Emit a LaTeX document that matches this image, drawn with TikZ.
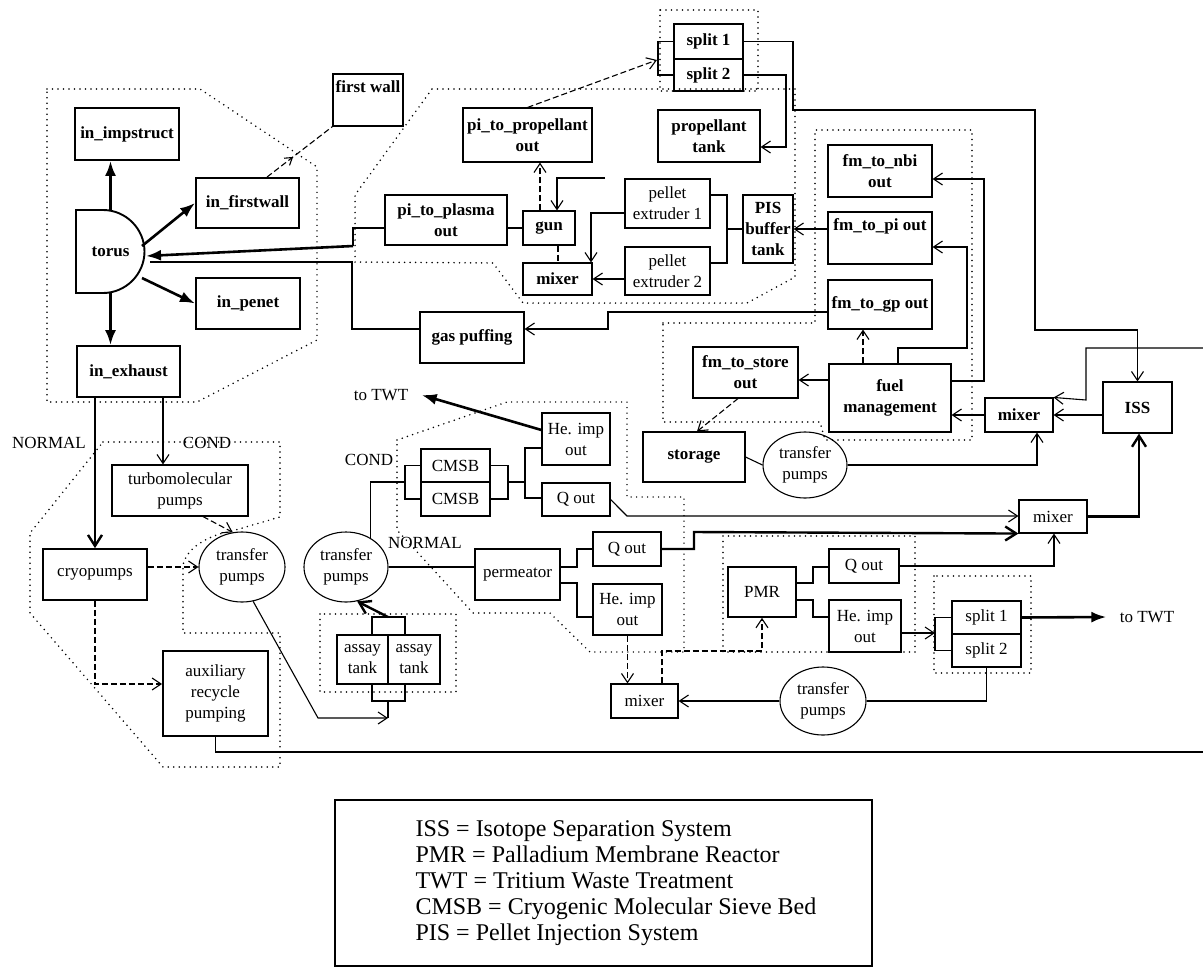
\documentclass[tikz,border=0pt]{standalone}
\usepackage{fontspec}
\setmainfont{Liberation Serif}
\usetikzlibrary{arrows.meta,shapes.geometric,decorations.markings}
\newcommand\bx[7]{\node[#6, minimum width={#4-#2}, minimum height={#5-#3}] (#1) at ({(#2+#4)/2},{(#3+#5)/2}) {#7};}
\tikzset{
 lbl/.style={font=\fontsize{17}{21}\selectfont, align=center},
 box/.style={draw, line width=1.1pt, inner sep=1pt, lbl},
 bbox/.style={box, font=\fontsize{17}{21}\selectfont\bfseries},
 tbox/.style={bbox, line width=1.9pt},
 hbox/.style={box, line width=1.7pt},
 ell/.style={draw, ellipse, line width=1.1pt, inner sep=0pt, lbl},
 ln/.style={line width=1.1pt},
 arw/.style={ln, -{Straight Barb[length=9pt,width=12pt]}},
 dsh/.style={dash pattern=on 6pt off 3pt},
 fat/.style={line width=2.6pt, -{Latex[length=15pt,width=11pt]}},
 fatv/.style={line width=2.4pt, -{Straight Barb[length=11pt,width=14pt]}},
 grp/.style={line width=1.7pt, dash pattern=on 0pt off 5.5pt, line cap=round},
}
\begin{document}
\begin{tikzpicture}[x=1pt,y=-1pt]
\path[fill=white] (0,0) rectangle (1203,978);
\useasboundingbox (0,0) rectangle (1203,978);

% ---------- dotted groups ----------
\draw[grp] (47,89) -- (200,89) -- (317,167) -- (317,340) -- (197,402) -- (47,402) -- cycle;
\draw[grp] (432,89) -- (795,89) -- (795,277) -- (747,303) -- (523,303) -- (493,263) -- (355,262) -- (355,195) -- cycle;
\draw[grp] (660,10) rectangle (758,91);
\draw[grp] (663,323) -- (815,323) -- (815,130) -- (972,130) -- (972,440) -- (825,440) -- (820,422) -- (663,422) -- cycle;
\draw[grp] (397,440) -- (507,402) -- (627,402) -- (627,497) -- (684,497) -- (684,652) -- (590,652) -- (550,613) -- (473,613) -- (397,530) -- cycle;
\draw[grp] (723,536) rectangle (915,652);
\draw[grp] (934,576) rectangle (1031,673);
\draw[grp] (320,614) rectangle (456,692);
\draw[grp] (103,442) -- (280,442) -- (280,517) -- (232,531) .. controls (205,536) and (185,550) .. (183,566) -- (183,633) -- (280,633) -- (280,767) -- (163,767) -- (30,613) -- (30,533) -- (43,517) -- cycle;

% ---------- torus group ----------
\draw[line width=1.9pt, fill=white] (76,210) -- (103,210) .. controls (126,210) and (144.5,229) .. (144.5,251.5) .. controls (144.5,274) and (126,293) .. (103,293) -- (76,293) -- cycle;
\node[minimum width=69, minimum height=83, inner sep=0pt, font=\fontsize{17}{21}\selectfont\bfseries] (torus) at (110.5,251.5) {torus};
\bx{imp}{75}{108}{179}{160}{tbox}{in\_impstruct}
\bx{fwl}{196}{178}{299}{228}{tbox}{in\_firstwall}
\bx{pen}{196}{278}{300}{329}{tbox}{in\_penet}
\bx{exh}{77}{346}{180}{397}{tbox}{in\_exhaust}
\bx{fw}{333}{74}{403}{126}{bbox}{first wall\\\strut}

% ---------- PIS group ----------
\bx{pitp}{463}{108}{592}{162}{bbox}{pi\_to\_propellant\\out}
\bx{spa}{674}{24}{743}{59}{bbox}{split 1}
\bx{spb}{674}{59}{743}{91}{bbox}{split 2}
\bx{prop}{658}{110}{760}{162}{bbox}{propellant\\tank}
\bx{pipl}{385}{195}{507}{245}{bbox}{pi\_to\_plasma\\out}
\bx{gun}{523}{211}{575}{245}{bbox}{gun}
\bx{mixA}{523}{263}{592}{295}{bbox}{mixer}
\bx{ext1}{625}{179}{710}{228}{box}{pellet\\extruder 1}
\bx{ext2}{625}{247}{710}{295}{box}{pellet\\extruder 2}
\bx{pis}{743}{195}{793}{263}{bbox}{PIS\\buffer\\tank}
\bx{gas}{420}{312}{524}{363}{bbox}{gas puffing}

% ---------- fuel management ----------
\bx{nbi}{828}{145}{932}{197}{bbox}{fm\_to\_nbi\\out}
\bx{fmpi}{828}{212}{932}{264}{bbox}{fm\_to\_pi out\\\strut}
\bx{fmgp}{828}{280}{932}{329}{bbox}{fm\_to\_gp out}
\bx{fuel}{829}{364}{951}{432}{bbox}{fuel\\management}
\bx{store}{693}{347}{798}{398}{bbox}{fm\_to\_store\\out}
\bx{storage}{643}{432}{745}{482}{bbox}{storage}
\node[ell, minimum width=84, minimum height=66] (tpS) at (805,465) {transfer\\pumps};
\bx{mixB}{985}{398}{1053}{432}{bbox}{mixer}
\bx{iss}{1103}{382}{1172}{433}{bbox}{ISS}
\bx{mixC}{1019}{500}{1087}{533}{box}{mixer}

% ---------- CMSB / permeator / PMR ----------
\bx{cmsb1}{421}{449}{490}{482}{box}{CMSB}
\bx{cmsb2}{421}{482}{490}{516}{box}{CMSB}
\bx{heA}{542}{413}{610}{465}{box}{He. imp\\out}
\bx{qA}{542}{483}{610}{516}{box}{Q out}
\node[ell, minimum width=84, minimum height=70] (tpM) at (346,567) {transfer\\pumps};
\bx{perm}{475}{549}{560}{600}{hbox}{permeator}
\bx{qB}{593}{532}{661}{566}{hbox}{Q out}
\bx{heB}{593}{584}{662}{635}{hbox}{He. imp\\out}
\bx{pmr}{728}{567}{796}{617}{hbox}{PMR}
\bx{qC}{829}{549}{899}{583}{hbox}{Q out}
\bx{heC}{829}{600}{901}{652}{box}{He. imp\\out}
\bx{spc}{952}{601}{1021}{634}{box}{split 1}
\bx{spd}{952}{634}{1021}{667}{box}{split 2}
\node[ell, minimum width=86, minimum height=68] (tpR) at (823,701) {transfer\\pumps};
\bx{mixD}{611}{684}{678}{718}{box}{mixer}
\bx{as1}{337}{635}{388}{684}{box}{assay\\tank}
\bx{as2}{388}{635}{440}{684}{box}{assay\\tank}

% ---------- left bottom ----------
\bx{turbo}{112}{465}{248}{516}{box}{turbomolecular\\pumps}
\bx{cryo}{43}{549}{147}{600}{hbox}{cryopumps}
\node[ell, minimum width=86, minimum height=70] (tpL) at (242,567) {transfer\\pumps};
\bx{aux}{163}{651}{268}{736}{tbox,font=\fontsize{17}{21}\selectfont}{auxiliary\\recycle\\pumping}

% ---------- labels ----------
\node[lbl] (twtA) at (381,395) {to TWT};
\node[lbl] (twtB) at (1147,617) {to TWT};
\node[lbl] (nrmA) at (49,443) {NORMAL};
\node[lbl] (cndA) at (207,443) {COND};
\node[lbl] (cndB) at (369,460) {COND};
\node[lbl] (nrmB) at (425,543) {NORMAL};

% ---------- free ends ----------
\coordinate (gunin) at (605,178);
\coordinate (redgeA) at (1203,348);
\coordinate (redgeB) at (1203,752);

% ---------- torus connectors ----------
\draw[fat] (torus.north) -- (torus.north |- imp.south);
\draw[fat] (142,246) -- (fwl.west);
\draw[fat] (142,278) -- (pen.west);
\draw[fat] (torus.south) -- (torus.south |- exh.north);
\draw[ln] (pipl.west |- 0,228) -- (353,228) -- (353,246);
\draw[fat] (353,246) -- (146,256);
\draw[line width=2.4pt] (gas.west |- 0,329) -- (352,329) -- (352,262) -- (150,262);
\draw[ln, dsh, decoration={markings, mark=at position 0.4 with {\arrow{Straight Barb[length=7pt,width=9pt]}}}, postaction=decorate] (fwl.north -| 267,0) -- (fw.south west);
\draw[arw] (fmgp.west |- 0,312) -- (608,312) -- (608,329) -- (gas.east |- 0,329);

% ---------- PIS connectors ----------
\draw[ln] (pipl.east |- gun.west) -- (gun.west);
\draw[arw, dsh] (gun.north -| 540,0) -- (pitp.south -| 540,0);
\draw[arw] (gunin) -- (557,178) -- (gun.north -| 557,0);
\draw[ln, dsh] (gun.south -| 558,0) -- (mixA.north -| 558,0);
\draw[arw] (ext1.west |- 0,213) -- (591,213) -- (mixA.north -| 591,0);
\draw[arw] (ext2.west |- mixA.east) -- (mixA.east);
\draw[ln] (pis.west) -- (727,229);
\draw[ln] (ext1.east |- 0,195) -- (727,195) -- (727,263) -- (ext2.east |- 0,263);
\draw[arw] (fmpi.west |- pis.east) -- (pis.east);
\draw[arw, dsh] (pitp.north) -- (657,60);
\draw[ln] (spa.west) -- (658,41.5) -- (658,75) -- (spb.west);
\draw[arw] (spb.east) -- (786,75) -- (786,147) -- (prop.east |- 0,147);
\draw[arw] (spa.east) -- (793,41.5) -- (793,110) -- (1035,110) -- (1035,330) -- (1137.5,330) -- (iss.north);

% ---------- fuel connectors ----------
\draw[arw] (iss.west |- mixB.east) -- (mixB.east);
\draw[arw] (redgeA) -- (1086,348) -- (1086,400) -- (mixB.north east);
\draw[arw] (mixB.west) -- (fuel.east |- mixB.west);
\draw[arw, dsh] (fuel.north -| 863,0) -- (fmgp.south -| 863,0);
\draw[arw] (fuel.west |- 0,380) -- (store.east |- 0,380);
\draw[arw, dsh] (store.south -| 738,0) -- (storage.north -| 697,0);
\draw[arw] (fuel.north -| 898,0) -- (898,348) -- (967,348) -- (967,247) -- (fmpi.east |- 0,247);
\draw[arw] (fuel.east |- 0,381) -- (984,381) -- (984,179) -- (nbi.east |- 0,179);
\draw[ln] (storage.east) -- (tpS.west);
\draw[arw] (tpS.east) -- (1037,465) -- (mixB.south -| 1037,0);
\draw[fatv] (mixC.east) -- (1139,516.5) -- (iss.south -| 1139,0);

% ---------- CMSB connectors ----------
\draw[arw] (qA.east) -- (627,516) -- (mixC.west |- 0,516);
\draw[fatv] (qB.east) -- (694,549) -- (694,532) -- (mixC.south west);
\draw[arw] (qC.east) -- (1054,566) -- (mixC.south -| 1054,0);
\draw[fat] (heA.west |- 0,430) -- ([xshift=10pt]twtA.east);
\draw[ln] (cmsb1.west) -- (405,465.5) -- (405,499) -- (cmsb2.west);
\draw[ln] (tpM.50) -- (tpM.50 |- 0,482) -- (405,482);
\draw[ln] (cmsb1.east) -- (508,465.5) -- (508,499) -- (cmsb2.east);
\draw[ln] (508,482) -- (525,482);
\draw[ln] (heA.west |- 0,448) -- (525,448) -- (525,498) -- (qA.west |- 0,498);
\draw[ln] (tpM.east) -- (perm.west |- tpM.east);
\draw[ln] (perm.east |- 0,567) -- (577,567) -- (577,549) -- (qB.west |- 0,549);
\draw[ln] (perm.east |- 0,583) -- (577,583) -- (577,617) -- (heB.west |- 0,617);
\draw[arw, dsh] (heB.south) -- (heB.south |- mixD.north);
\draw[arw, dsh] (mixD.north -| 662,0) -- (662,651) -- (762,651) -- (pmr.south);
\draw[ln] (pmr.east |- 0,583) -- (813,583) -- (813,567) -- (qC.west |- 0,567);
\draw[ln] (pmr.east |- 0,600) -- (813,600) -- (813,617) -- (heC.west |- 0,617);
\draw[arw] (heC.east |- 0,633) -- (935,633);
\draw[ln] (spc.west) -- (935,617.5) -- (935,650.5) -- (spd.west);
\draw[fat] (spc.east) -- ([xshift=-10pt]twtB.west);
\draw[ln] (spd.south) -- (986.5,701) -- (tpR.east);
\draw[arw] (tpR.west) -- (mixD.east);

% ---------- assay / left bottom ----------
\draw[arw] (tpL.-72) -- (318,718) -- (388,718);
\draw[ln] (as1.south -| 372,0) -- (372,701) -- (405,701) -- (as2.south -| 405,0);
\draw[ln] (388,701) -- (388,718);
\draw[ln] (as1.north -| 372,0) -- (372,617) -- (405,617) -- (as2.north -| 405,0);
\draw[fatv] (388,617) -- (tpM.-72);
\draw[fatv] (cryo.north |- exh.south) -- (cryo.north);
\draw[arw] (exh.south -| 163,0) -- (turbo.north -| 163,0);
\draw[arw, dsh] (turbo.south -| 203,0) -- (tpL.105);
\draw[arw, dsh] (cryo.east |- tpL.west) -- (tpL.west);
\draw[arw, dsh] (cryo.south) -- (cryo.south |- 0,684) -- (aux.west |- 0,684);
\draw[line width=1.4pt] (aux.south) -- (aux.south |- 0,752) -- (redgeB);

% ---------- legend ----------
\node[draw, line width=1.3pt, minimum width=537, minimum height=166, inner sep=0pt] (legend) at (603.5,883) {};
\node[anchor=west, align=left, font=\fontsize{24}{26}\selectfont] (legtext) at (412,883) {ISS = Isotope Separation System\\PMR = Palladium Membrane Reactor\\TWT = Tritium Waste Treatment\\CMSB = Cryogenic Molecular Sieve Bed\\PIS = Pellet Injection System};
\end{tikzpicture}
\end{document}
